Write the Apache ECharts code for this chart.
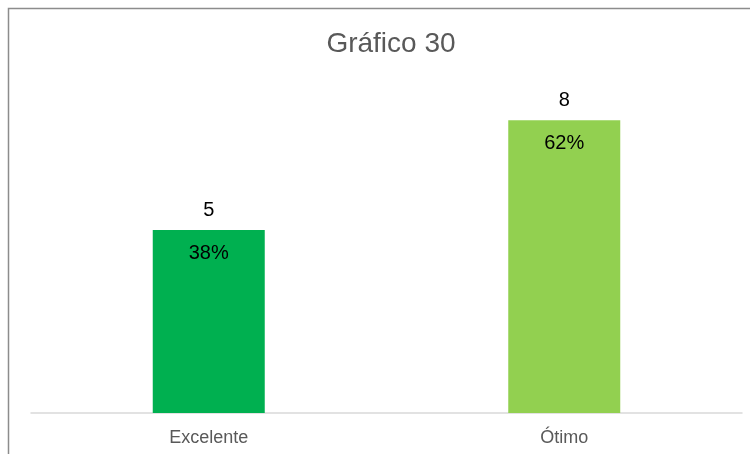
<!DOCTYPE html>
<html>
<head>
<meta charset="utf-8">
<script src="https://cdn.jsdelivr.net/npm/echarts@6/dist/echarts.min.js"></script>
<style>
  html, body { margin: 0; padding: 0; background: #fff; }
  #grafico { width: 750px; height: 454px; }
</style>
</head>
<body>
<div id="grafico"></div>
<script>
// dados do gráfico
const categorias = ["Excelente", "Ótimo"];
const valores = [5, 8];
const percentuais = ["38%", "62%"];
const cores = ["#00b050", "#92d050"];

const chart = echarts.init(document.getElementById("grafico"));

const option = {
  animation: false,
  textStyle: { fontFamily: "Liberation Sans, Arial, sans-serif" },
  graphic: [
    {
      type: "rect",
      shape: { x: 8.5, y: 8.5, width: 760, height: 460 },
      style: { fill: "none", stroke: "#8c8c8c", lineWidth: 1.5 },
      silent: true,
    },
  ],
  title: {
    text: "Gráfico 30",
    left: 386,
    textAlign: "center",
    top: 25,
    textStyle: {
      color: "#595959",
      fontSize: 28,
      fontWeight: "normal",
      fontFamily: "Liberation Sans, Arial, sans-serif",
    },
  },
  grid: { left: 31, right: 8, top: 47, bottom: 41, containLabel: false },
  xAxis: {
    type: "category",
    data: categorias,
    axisTick: { show: false },
    axisLine: { lineStyle: { color: "#d9d9d9", width: 1.5 } },
    axisLabel: { color: "#595959", fontSize: 18, margin: 16 },
  },
  yAxis: {
    type: "value",
    min: 0,
    max: 10,
    show: false,
  },
  series: [
    {
      type: "bar",
      barWidth: 112,
      data: valores.map((v, i) => ({ value: v, itemStyle: { color: cores[i] } })),
      label: {
        show: true,
        position: "top",
        distance: 10,
        color: "#000",
        fontSize: 20,
      },
    },
    {
      type: "bar",
      barWidth: 112,
      barGap: "-100%",
      data: valores,
      itemStyle: { color: "rgba(0,0,0,0)" },
      label: {
        show: true,
        position: "insideTop",
        distance: 13,
        color: "#000",
        fontSize: 20,
        formatter: (p) => percentuais[p.dataIndex],
      },
      z: 3,
    },
  ],
};

chart.setOption(option);
</script>
</body>
</html>
